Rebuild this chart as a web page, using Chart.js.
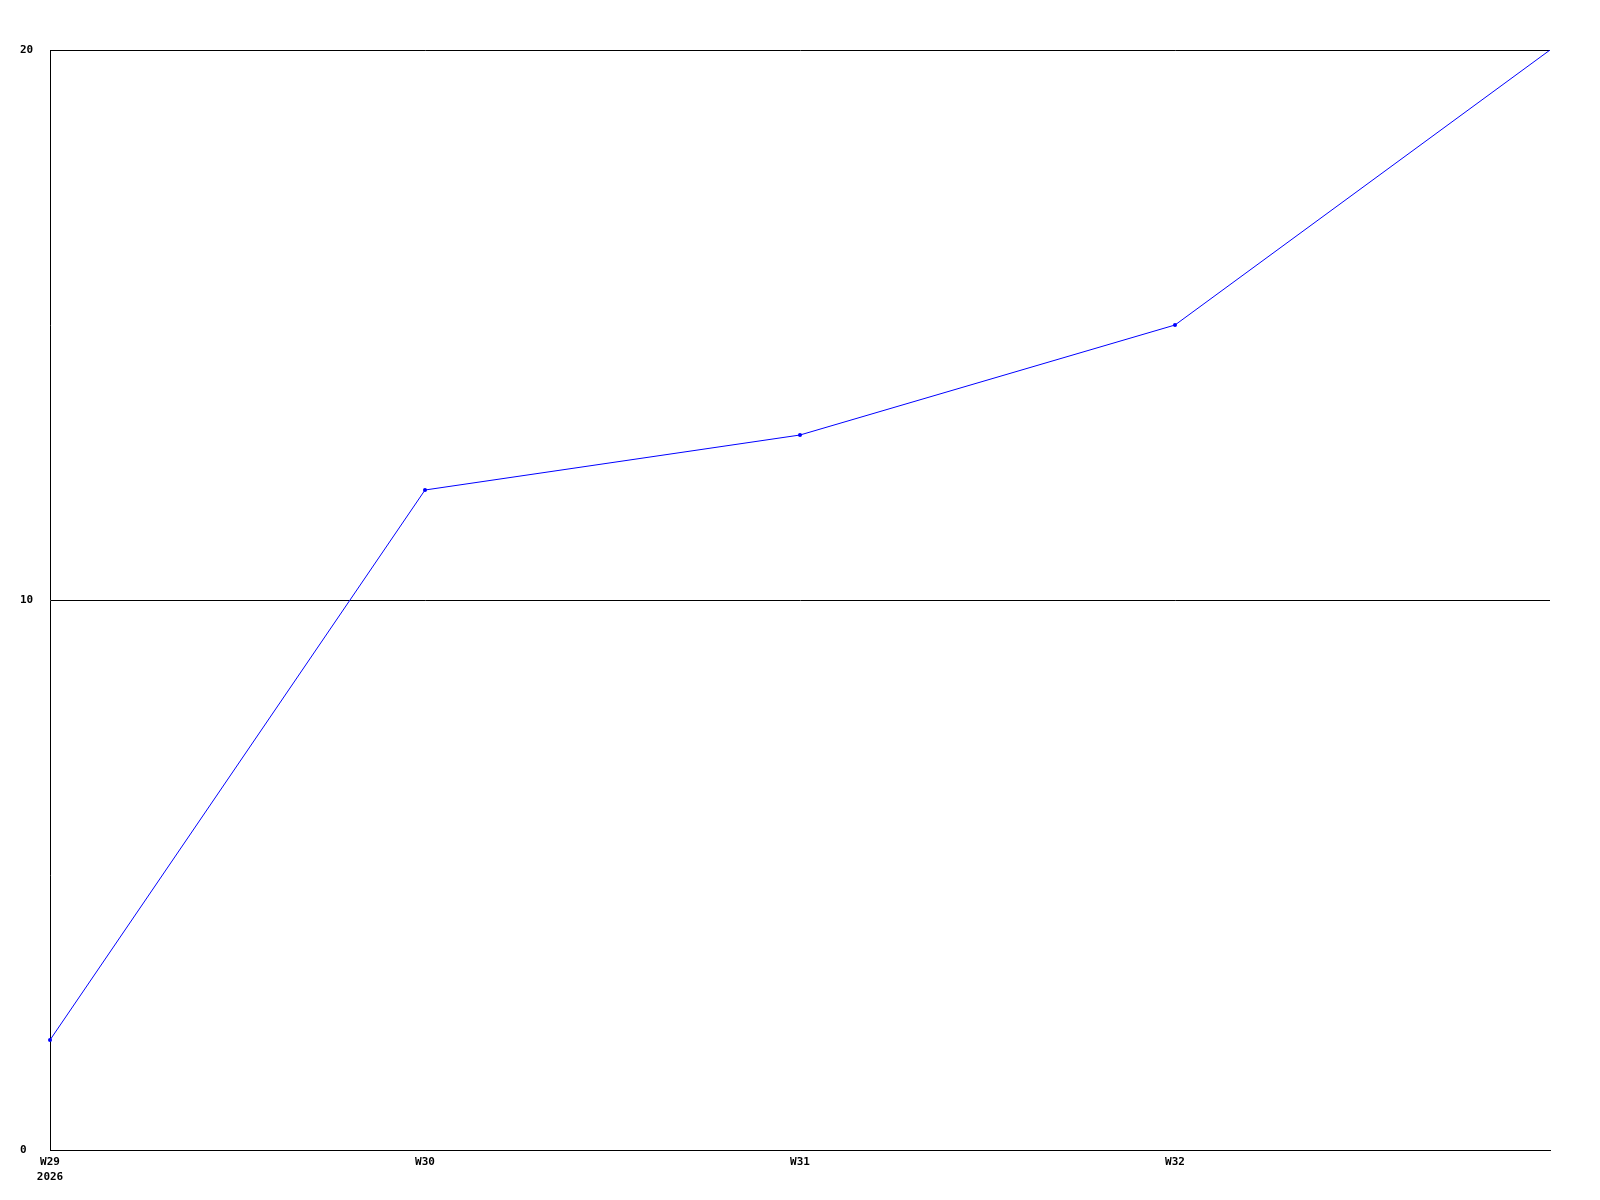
<!DOCTYPE html>
<html>
<head>
<meta charset="utf-8">
<script src="https://cdn.jsdelivr.net/npm/chart.js@4"></script>
<style>
html,body{margin:0;padding:0;background:#fff;}
canvas{display:block;}
</style>
</head>
<body>
<canvas id="c" width="1600" height="1200"></canvas>
<script>
const weeks = ["W29", "W30", "W31", "W32", "W33"];
const yearLabel = "2026";
const values = [2, 12, 13, 15, 20];
const yTicks = [0, 10, 20];

const font = { family: "'DejaVu Sans Mono', 'Liberation Mono', monospace", size: 11, weight: 'bold', lineHeight: 1.4 };

new Chart(document.getElementById('c'), {
  type: 'line',
  data: {
    labels: weeks,
    datasets: [{
      data: values,
      borderColor: '#0000ff',
      backgroundColor: '#0000ff',
      borderWidth: 1,
      tension: 0,
      pointRadius: ctx => ctx.dataIndex === values.length - 1 ? 0 : 2,
      pointBorderWidth: 0,
      pointHoverRadius: 2
    }]
  },
  options: {
    responsive: false,
    animation: false,
    events: [],
    layout: { padding: { left: 20, top: 50, right: 50, bottom: 0 } },
    plugins: { legend: { display: false }, tooltip: { enabled: false } },
    scales: {
      x: {
        offset: false,
        grid: { display: false, drawTicks: false },
        border: { display: true, color: '#000', width: 1 },
        afterFit: s => { s.height = 50; },
        ticks: {
          color: '#000',
          font: font,
          padding: 4,
          maxRotation: 0,
          autoSkip: false,
          callback: (v, i) => i === 0 ? [weeks[i], yearLabel] : (i === weeks.length - 1 ? '' : weeks[i])
        }
      },
      y: {
        min: yTicks[0],
        max: yTicks[yTicks.length - 1],
        afterBuildTicks: s => { s.ticks = yTicks.map(v => ({ value: v })); },
        afterFit: s => { s.width = 30; },
        grid: { color: '#000', lineWidth: 1, drawTicks: false },
        border: { display: true, color: '#000', width: 1 },
        ticks: {
          color: '#000',
          font: font,
          crossAlign: 'far',
          padding: 0
        }
      }
    }
  }
});
</script>
</body>
</html>
